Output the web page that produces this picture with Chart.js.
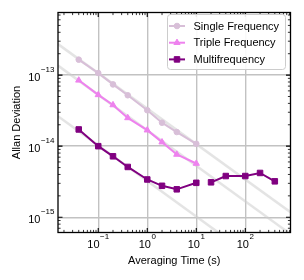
<!DOCTYPE html>
<html>
<head>
<meta charset="utf-8">
<script src="https://cdn.jsdelivr.net/npm/chart.js@4.4.1/dist/chart.umd.min.js"></script>
<style>
  html, body { margin:0; padding:0; background:#fff; }
  #wrap { width:304px; height:280px; }
</style>
</head>
<body>
<div id="wrap"><canvas id="adev" width="304" height="280"></canvas></div>
<script>
// ── values ─────────────────────────────────────────────────
const singleTau  = [0.04, 0.1, 0.2, 0.4, 1, 2, 4, 10];
const singleAdev = [1.65e-13, 1.07e-13, 7.4e-14, 5.2e-14, 3.2e-14, 2.14e-14, 1.58e-14, 1.08e-14];

const tripleTau  = [0.04, 0.1, 0.2, 0.4, 1, 2, 4, 10];
const tripleAdev = [8.45e-14, 5.27e-14, 3.8e-14, 2.5e-14, 1.68e-14, 1.14e-14, 7.65e-15, 5.7e-15];

const multiTau  = [0.04, 0.1, 0.2, 0.4, 1, 2, 4, 10, 20, 40, 100, 200, 400];
const multiAdev = [1.72e-14, 1.0e-14, 7.2e-15, 5.1e-15, 3.4e-15, 2.77e-15, 2.47e-15, 3.05e-15, 3.1e-15, 3.8e-15, 3.8e-15, 4.2e-15, 3.2e-15];
const multiGapAfter = 10;   // no line drawn between 10 s and 20 s

// faint tau^-1/2 guide lines, end points at the plot edges
const guideTau    = [0.0151, 836];
const guideSingle = [2.73e-13, 1.18e-15];
const guideTriple = [1.36e-13, 5.8e-16];
const guideMulti  = [2.63e-14, 1.12e-16];

const xTickExp = [-1, 0, 1, 2];
const yTickExp = [-15, -14, -13];
const xRange = [0.0151, 836];
const yRange = [6.1e-16, 7.6e-13];

// ── style ──────────────────────────────────────────────────
const FONT   = '"Liberation Sans", Arial, Helvetica, sans-serif';
const COLORS = { single: '#d8bfd8', triple: '#ee82ee', multi: '#800080', guide: 'rgba(205,205,205,0.55)', grid: '#c2c2c2' };

const isDecade = v => Math.abs(Math.log10(v) - Math.round(Math.log10(v))) < 1e-6;
const pts = (xs, ys) => xs.map((x, i) => ({ x, y: ys[i] }));

function series(label, xs, ys, color, style, radius) {
  return {
    label, data: pts(xs, ys), showLine: true,
    borderColor: color, backgroundColor: color, borderWidth: 2,
    pointStyle: style, pointRadius: radius, pointBorderColor: color,
    pointBackgroundColor: color, pointBorderWidth: 1, order: 1,
  };
}

function guide(ys) {
  return {
    label: '_guide', data: pts(guideTau, ys), showLine: true,
    borderColor: COLORS.guide, borderWidth: 2.5, pointRadius: 0, order: 10,
  };
}

const multiSet = series('Multifrequency', multiTau, multiAdev, COLORS.multi, 'rect', 3.9);
multiSet.segment = { borderColor: ctx => ctx.p0.parsed.x === multiGapAfter ? 'rgba(0,0,0,0)' : COLORS.multi };

const datasets = [
  series('Single Frequency', singleTau, singleAdev, COLORS.single, 'circle', 2.8),
  series('Triple Frequency', tripleTau, tripleAdev, COLORS.triple, 'triangle', 3.6),
  multiSet,
  guide(guideSingle), guide(guideTriple), guide(guideMulti),
];

// "10" with a raised exponent
function drawPow(ctx, exp, x, y, align) {
  const base = '10', sup = exp < 0 ? '\u2212' + (-exp) : String(exp);
  ctx.font = `11px ${FONT}`;
  const wb = ctx.measureText(base).width;
  ctx.font = `8px ${FONT}`;
  const ws = ctx.measureText(sup).width;
  const w  = wb + ws + 0.5;
  const x0 = align === 'center' ? x - w / 2 : x - w;
  ctx.textAlign = 'left';
  ctx.textBaseline = 'middle';
  ctx.font = `11px ${FONT}`;
  ctx.fillText(base, x0, y);
  ctx.font = `8px ${FONT}`;
  ctx.fillText(sup, x0 + wb + 0.5, y - 8);
}

// frame, inward ticks on all sides, labels, legend
const decor = {
  id: 'decor',
  afterDatasetsDraw(chart) {
    const { ctx, chartArea: a, scales: { x, y } } = chart;
    ctx.save();
    ctx.strokeStyle = '#000';

    const ticksFor = (scale, lo, hi) => {
      const out = [];
      for (let e = Math.floor(Math.log10(lo)); e <= Math.ceil(Math.log10(hi)); e++) {
        for (let k = 1; k <= 9; k++) {
          const v = k * Math.pow(10, e);
          if (v >= lo && v <= hi) out.push({ p: scale.getPixelForValue(v), major: k === 1 });
        }
      }
      return out;
    };

    ticksFor(x, xRange[0], xRange[1]).forEach(t => {
      const len = t.major ? 4.5 : 2.6;
      ctx.lineWidth = t.major ? 1.1 : 0.8;
      ctx.beginPath();
      ctx.moveTo(t.p, a.bottom); ctx.lineTo(t.p, a.bottom - len);
      ctx.moveTo(t.p, a.top);    ctx.lineTo(t.p, a.top + len);
      ctx.stroke();
    });
    ticksFor(y, yRange[0], yRange[1]).forEach(t => {
      const len = t.major ? 4.5 : 2.6;
      ctx.lineWidth = t.major ? 1.1 : 0.8;
      ctx.beginPath();
      ctx.moveTo(a.left, t.p);  ctx.lineTo(a.left + len, t.p);
      ctx.moveTo(a.right, t.p); ctx.lineTo(a.right - len, t.p);
      ctx.stroke();
    });

    ctx.lineWidth = 1.3;
    ctx.strokeRect(a.left, a.top, a.right - a.left, a.bottom - a.top);

    // tick labels
    ctx.fillStyle = '#000';
    xTickExp.forEach(e => drawPow(ctx, e, x.getPixelForValue(Math.pow(10, e)), 244.5, 'center'));
    yTickExp.forEach(e => drawPow(ctx, e, 54.5, y.getPixelForValue(Math.pow(10, e)) + 2.5, 'right'));

    // axis titles
    ctx.font = `11px ${FONT}`;
    ctx.textAlign = 'center';
    ctx.textBaseline = 'middle';
    ctx.fillText('Averaging Time (s)', (a.left + a.right) / 2, 261);
    ctx.save();
    ctx.translate(17, (a.top + a.bottom) / 2);
    ctx.rotate(-Math.PI / 2);
    ctx.fillText('Allan Deviation', 0, 0);
    ctx.restore();

    // legend
    const lx = 167.5, ly = 14.5, lw = 118, lh = 55;
    ctx.beginPath();
    ctx.roundRect(lx, ly, lw, lh, 3);
    ctx.fillStyle = 'rgba(255,255,255,0.9)';
    ctx.fill();
    ctx.strokeStyle = '#cccccc';
    ctx.lineWidth = 1;
    ctx.stroke();

    chart.data.datasets.filter(d => d.label[0] !== '_').forEach((d, i) => {
      const ry = 26 + i * 16.7;
      ctx.strokeStyle = d.borderColor;
      ctx.lineWidth = 2;
      ctx.beginPath();
      ctx.moveTo(169, ry); ctx.lineTo(185, ry);
      ctx.stroke();
      ctx.fillStyle = d.pointBackgroundColor;
      ctx.lineWidth = 1;
      Chart.helpers.drawPoint(ctx, { pointStyle: d.pointStyle, radius: d.pointRadius, rotation: 0, borderWidth: 1 }, 177, ry);
      ctx.fillStyle = '#000';
      ctx.font = `11px ${FONT}`;
      ctx.textAlign = 'left';
      ctx.textBaseline = 'middle';
      ctx.fillText(d.label, 193.5, ry + 0.5);
    });

    ctx.restore();
  },
};

const gridOpts = {
  color: ctx => (ctx.tick && isDecade(ctx.tick.value)) ? COLORS.grid : 'rgba(0,0,0,0)',
  lineWidth: 1.4,
  drawTicks: false,
};

new Chart(document.getElementById('adev'), {
  type: 'scatter',
  data: { datasets },
  options: {
    responsive: false,
    animation: false,
    events: [],
    layout: { padding: { left: 58, top: 12.5, right: 13.5, bottom: 47.5 } },
    plugins: { legend: { display: false }, tooltip: { enabled: false } },
    scales: {
      x: {
        type: 'logarithmic', min: xRange[0], max: xRange[1], bounds: 'data',
        border: { display: false }, grid: gridOpts, ticks: { display: false },
      },
      y: {
        type: 'logarithmic', min: yRange[0], max: yRange[1], bounds: 'data',
        border: { display: false }, grid: gridOpts, ticks: { display: false },
      },
    },
  },
  plugins: [decor],
});
</script>
</body>
</html>
